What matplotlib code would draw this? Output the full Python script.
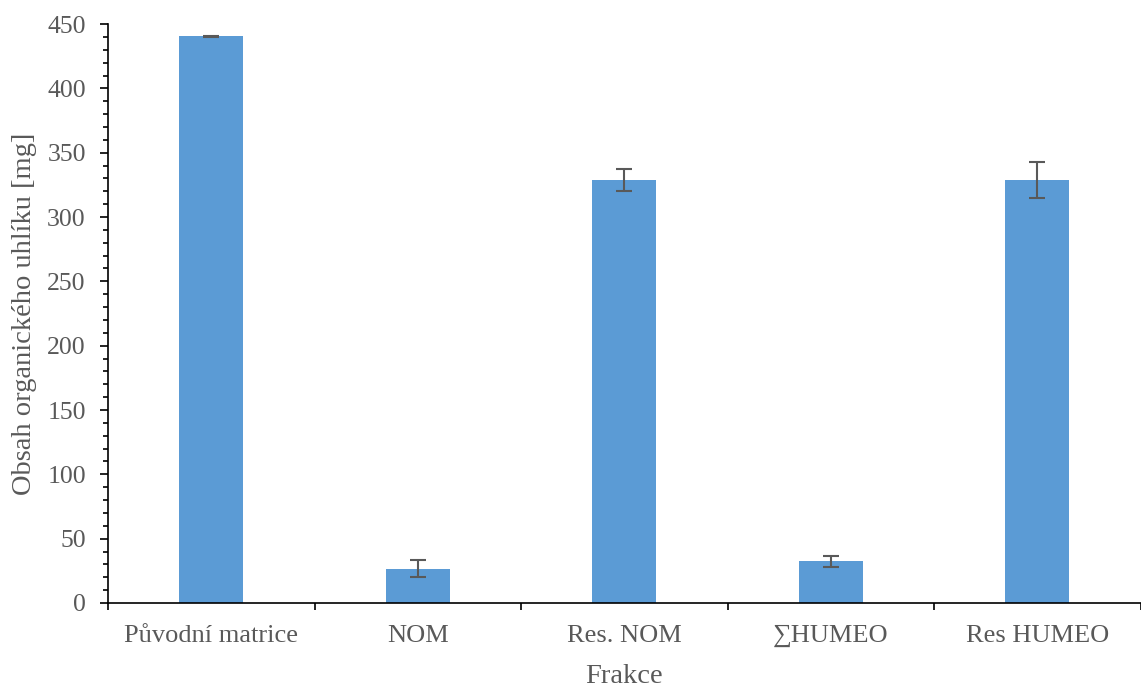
import numpy as np
import matplotlib.pyplot as plt
from matplotlib.ticker import MultipleLocator, FixedLocator

categories = ["Původní matrice", "NOM", "Res. NOM", "∑HUMEO", "Res HUMEO"]
values = [440.5, 26.8, 328.8, 32.6, 328.6]
errors = [0.5, 6.6, 8.7, 4.3, 14.0]

plt.rcParams['font.family'] = ['Liberation Serif', 'DejaVu Serif']
gray = "#595959"

fig = plt.figure(figsize=(11.41, 6.87), dpi=100)
ax = fig.add_axes([0.0947, 0.1223, 0.905, 0.8427])

x = np.arange(len(categories))
ax.bar(x, values, width=0.31, color="#5B9BD5", zorder=2)
ax.errorbar(x, values, yerr=errors, fmt="none", ecolor=gray, elinewidth=1.5,
            capsize=5.5, capthick=1.5, zorder=3)

ax.set_xlim(-0.5, len(categories) - 0.5)
ax.set_ylim(0, 450)
ax.yaxis.set_major_locator(MultipleLocator(50))
ax.yaxis.set_minor_locator(MultipleLocator(10))
ax.set_xticks(x)
ax.set_xticklabels(categories)
ax.xaxis.set_minor_locator(FixedLocator(np.arange(-0.5, len(categories), 1.0)))

ax.tick_params(axis="x", which="major", length=0, pad=16, labelsize=19, labelcolor=gray)
ax.tick_params(axis="x", which="minor", length=5, width=1.2, color="black")
ax.tick_params(axis="y", which="major", length=6, width=1.2, color="black",
               labelsize=18.5, labelcolor=gray, pad=10)
ax.tick_params(axis="y", which="minor", length=3.6, width=1.2, color="black")

for s in ["top", "right"]:
    ax.spines[s].set_visible(False)
for s in ["left", "bottom"]:
    ax.spines[s].set_linewidth(1.2)
    ax.spines[s].set_color("black")

ax.set_xlabel("Frakce", fontsize=20.5, color=gray, labelpad=12)
ax.set_ylabel("Obsah organického uhlíku [mg]", fontsize=20.5, color=gray, labelpad=7)

fig.savefig("out.png", dpi=100)
